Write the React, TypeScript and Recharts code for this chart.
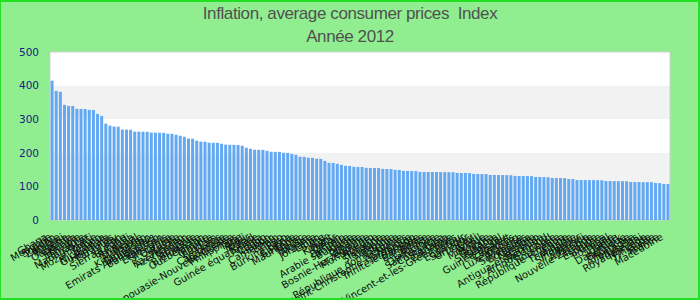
import React from 'react';
import { BarChart, Bar, XAxis, YAxis, CartesianGrid, ReferenceArea } from 'recharts';

const chartTitle = 'Inflation, average consumer prices  Index';
const chartSubtitle = 'Année 2012';

const countries = [
  'Ghana', 'Mongolie', 'Soudan', 'Zambie', 'Malawi', 'Nigeria', 'Ouganda', 'Kenya', 'Ethiopie', 'Tanzanie',
  'Madagascar', 'Haïti', 'Mozambique', 'Yémen', 'Nicaragua', 'Guatemala', 'Honduras', 'Paraguay', 'Iran', 'Sierra Leone',
  'Burundi', 'Rwanda', 'Népal', 'Moldavie', 'Kirghizistan', 'Tadjikistan', 'Emirats Arabes Unis', 'Bangladesh', 'Pakistan', 'Etats-Unis',
  'Sri Lanka', 'Ukraine', 'Russie', 'Kazakhstan', 'Azerbaïdjan', 'Géorgie', 'Arménie', 'Biélorussie', 'Ouzbékistan', 'Turquie',
  'Egypte', 'Vietnam', 'Laos', 'Cambodge', 'Indonésie', 'Papouasie-Nouvelle-Guinée', 'Philippines', 'Inde', 'Mali', 'Niger',
  'Tchad', 'Guinée équatoriale', 'Angola', 'Congo', 'Gabon', 'Cameroun', 'Bénin', 'Togo', 'Burkina Faso', 'Libéria',
  'Gambie', 'Mauritanie', 'Maroc', 'Tunisie', 'Algérie', 'Jordanie', 'Liban', 'Syrie', 'Irak', 'Koweït',
  'Qatar', 'Oman', 'Bahreïn', 'Arabie saoudite', 'Bulgarie', 'Serbie', 'Croatie', 'Albanie', 'Bosnie-Herzégovine', 'Monténégro',
  'Hongrie', 'Pologne', 'Slovaquie', 'Slovénie', 'Estonie', 'République dominicaine', 'Lettonie', 'Saint-Christophe-et-Niévès', 'Jamaïque', 'Trinité-et-Tobago',
  'Barbade', 'Bahamas', 'Belize', 'Grenade', 'Dominique', 'Sainte-Lucie', 'Costa Rica', 'Panama', 'Colombie', 'Saint-Vincent-et-les-Grenadines',
  'Pérou', 'Equateur', 'Salvador', 'Uruguay', 'Chili', 'Brésil', 'Mexique', 'Bolivie', 'Guyana', 'Suriname',
  'Sénégal', 'Guinée-Bissau', 'Cap-Vert', 'Comores', 'Luxembourg', 'Maurice', 'Seychelles', 'Botswana', 'Namibie', 'Lesotho',
  'Antigua-et-Barbuda', 'Swaziland', 'Afrique du Sud', 'Corée', 'Roumanie', 'République tchèque', 'Chine', 'Thaïlande', 'Malaisie', 'Singapour',
  'Brunei', 'Australie', 'Nouvelle-Zélande', 'Islande', 'Espagne', 'Grèce', 'Portugal', 'Italie', 'Irlande', 'Danemark',
  'Belgique', 'Autriche', 'Allemagne', 'Pays-Bas', 'Royaume-Uni', 'Norvège', 'Finlande', 'Suède', 'France', 'Macédoine',
];

const indexValues = [
  414.6, 384.2, 381.5, 342.8, 339.7, 339.4, 330.9, 330.6, 330.2, 327.8,
  327.5, 315.9, 309.8, 286.7, 280.9, 278.2, 277.8, 269.3, 268.9, 268.6,
  263.1, 262.8, 262.6, 262.3, 260.2, 259.9, 259.7, 259.4, 256.8, 256.5,
  253.7, 250.9, 247.8, 242.3, 241.9, 236.1, 233.2, 232.9, 230.1, 229.8,
  229.6, 226.9, 224.2, 223.9, 223.7, 223.4, 220.8, 215.1, 211.9, 209.2,
  208.9, 208.7, 205.9, 203.2, 202.9, 202.7, 199.9, 199.6, 196.8, 193.9,
  188.2, 187.9, 185.1, 184.8, 182.2, 181.9, 175.9, 170.3, 169.9, 167.2,
  164.1, 161.2, 160.9, 158.3, 158.1, 157.8, 155.2, 154.9, 154.7, 154.5,
  152.1, 151.8, 151.6, 149.1, 148.8, 146.2, 145.9, 145.7, 145.5, 143.2,
  143.1, 142.9, 142.8, 142.7, 142.6, 142.5, 142.4, 142.3, 140.1, 139.9,
  139.8, 139.6, 137.1, 136.9, 136.8, 136.6, 134.1, 133.9, 133.8, 133.7,
  133.6, 133.4, 131.1, 130.9, 130.8, 130.7, 130.5, 128.1, 127.9, 127.8,
  127.6, 125.1, 124.9, 124.8, 124.6, 122.2, 121.9, 119.1, 118.9, 118.8,
  118.7, 118.6, 118.5, 118.3, 116.1, 115.9, 115.8, 115.7, 115.6, 115.4,
  113.1, 112.9, 112.8, 112.7, 112.6, 112.4, 110.2, 109.8, 107.3, 106.9,
];

const yTicks = [0, 100, 200, 300, 400, 500];

const data = countries.map((name, i) => ({ name, value: indexValues[i] }));

const CountryTick = (props: any) => {
  const { x, y, payload } = props;
  const ax = x - 4;
  const ay = y + 11;
  return (
    <text
      x={ax}
      y={ay}
      transform={`rotate(-30, ${ax}, ${ay})`}
      textAnchor="end"
      fontSize={10}
      fontFamily="'DejaVu Sans', sans-serif"
      fill="#111"
    >
      {payload.value}
    </text>
  );
};

export default function App() {
  return (
    <div style={{ position: 'relative', width: 700, height: 300, background: '#90ee90', overflow: 'hidden' }}>
      <style>{'body{margin:0}'}</style>
      <div
        style={{
          position: 'absolute', left: 0, right: 0, top: 2, textAlign: 'center', whiteSpace: 'pre',
          fontFamily: "'Liberation Sans', Arial, sans-serif", letterSpacing: '-0.4px',
          fontSize: 17, color: '#505050', lineHeight: '23px',
        }}
      >
        <div>{chartTitle}</div>
        <div>{chartSubtitle}</div>
      </div>
      <BarChart
        width={700}
        height={300}
        data={data}
        margin={{ top: 52, right: 30, left: 0, bottom: 0 }}
        barCategoryGap="14%"
        style={{ position: 'absolute', left: 0, top: 0 }}
      >
        <CartesianGrid
          vertical={false}
          stroke="none"
          horizontalFill={['#ffffff', '#f2f2f2', '#ffffff', '#f2f2f2', '#f2f2f2']}
          fillOpacity={1}
        />
        <XAxis
          dataKey="name"
          interval={0}
          height={80}
          axisLine={false}
          tickLine={false}
          tick={<CountryTick />}
        />
        <YAxis
          width={50}
          domain={[0, 500]}
          ticks={yTicks}
          axisLine={false}
          tickLine={false}
          tickMargin={5}
          tick={{ fontSize: 10.5, fill: '#1a1a80', fontFamily: "'DejaVu Sans', sans-serif" }}
        />
        <Bar dataKey="value" fill="#63a8f2" isAnimationActive={false} />
        <ReferenceArea y1={0} y2={500} fill="none" stroke="#d0d0d0" ifOverflow="visible" />
      </BarChart>
      <div
        style={{
          position: 'absolute', inset: 0, pointerEvents: 'none',
          borderStyle: 'solid', borderColor: '#22e022', borderWidth: '2px 2px 2px 1px',
        }}
      />
    </div>
  );
}
